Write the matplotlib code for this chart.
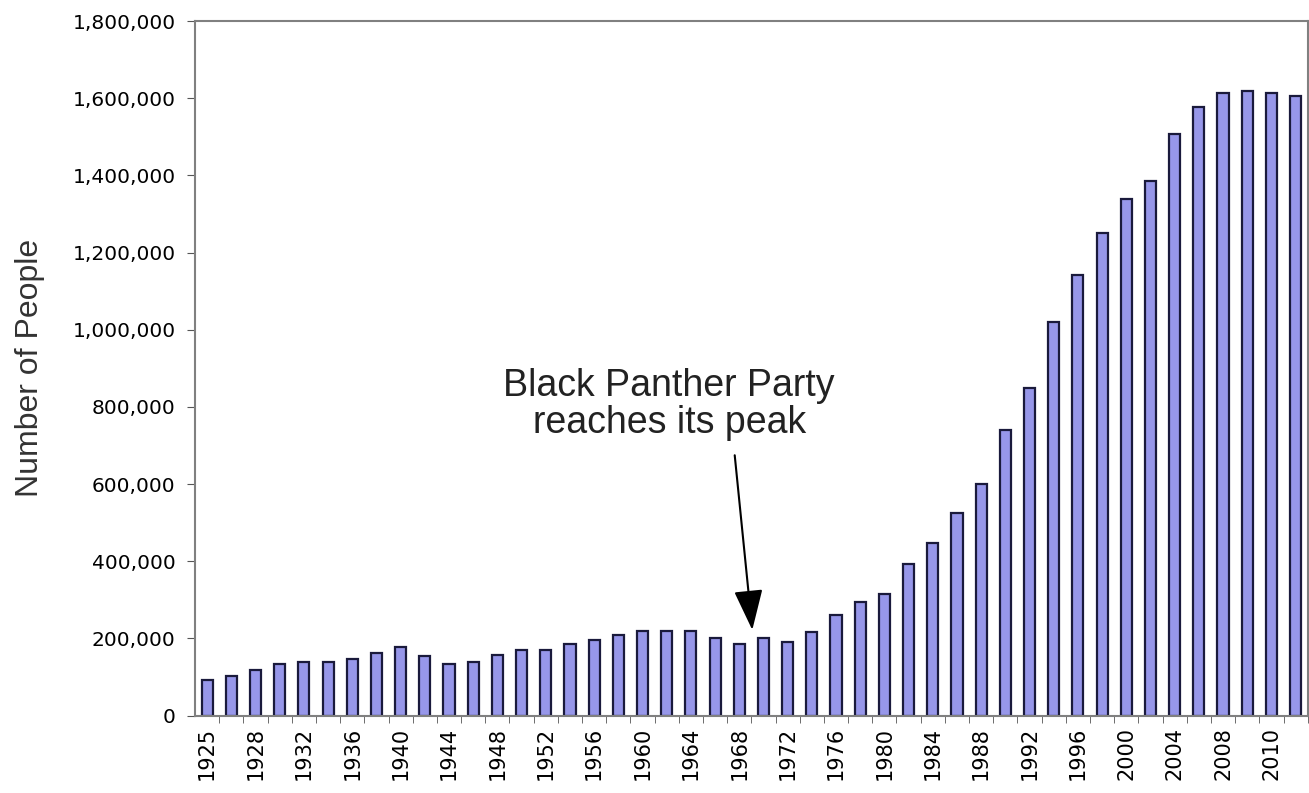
import matplotlib
matplotlib.use('Agg')
import matplotlib.pyplot as plt
from matplotlib.ticker import FuncFormatter

# survey years (two-year steps, annual at the ends)
years = [1925, 1926] + list(range(1928, 2009, 2)) + [2009, 2010, 2011]
people = [93000, 103000, 119000, 134000, 140000, 140000, 148000, 162000,
          178000, 155000, 134000, 140000, 156000, 171000, 171000, 187000,
          195000, 209000, 219000, 219000, 219000, 202000, 187000, 202000,
          191000, 217000, 261000, 294000, 315000, 394000, 448000, 526000,
          601000, 740000, 849000, 1019000, 1141000, 1250000, 1338000, 1385000,
          1506000, 1577000, 1613000, 1618000, 1613000, 1606000]
label_years = ['1925', '1928', '1932', '1936', '1940', '1944', '1948', '1952',
               '1956', '1960', '1964', '1968', '1972', '1976', '1980', '1984',
               '1988', '1992', '1996', '2000', '2004', '2008', '2010']
note = "Black Panther Party\nreaches its peak"
note_year = 1970

fig = plt.figure(figsize=(13.09, 7.93), dpi=100)
ax = fig.add_axes([0.149, 0.0975, 0.85, 0.876])

x = list(range(len(years)))
ax.bar(x, people, width=0.46, color='#9797ea', edgecolor='#1a1a3c', linewidth=1.6)

ax.set_xlim(-0.5, len(years) - 0.5)
ax.set_ylim(0, 1800000)
ax.set_yticks(range(0, 1800001, 200000))
ax.yaxis.set_major_formatter(FuncFormatter(lambda v, p: '{:,}'.format(int(v))))
ax.tick_params(axis='y', labelsize=14.5, length=6, color='#555555', pad=8)

# labels under every other bar, ticks on the category boundaries
ax.set_xticks(x[::2])
ax.set_xticklabels(label_years, rotation=90, fontsize=15)
ax.set_xticks([i + 0.5 for i in x], minor=True)
ax.tick_params(axis='x', which='major', length=0, pad=8)
ax.tick_params(axis='x', which='minor', length=5, color='#555555')

for s in ax.spines.values():
    s.set_color('#808080')
    s.set_linewidth(1.5)

ax.set_ylabel('Number of People', fontsize=23, family='Liberation Sans',
              color='#333333', labelpad=20)

i = years.index(note_year)
ax.annotate('', xy=(i - 0.45, 215000), xytext=(i - 1.2, 682000),
            arrowprops=dict(arrowstyle='-|>,head_length=1.4,head_width=0.5',
                            mutation_scale=18, color='black', lw=1.5))
ax.text(19.1, 806000, note, ha='center', va='center', fontsize=27,
        family='Liberation Sans', color='#222222', linespacing=1.05)

fig.savefig('out.png', dpi=100)
